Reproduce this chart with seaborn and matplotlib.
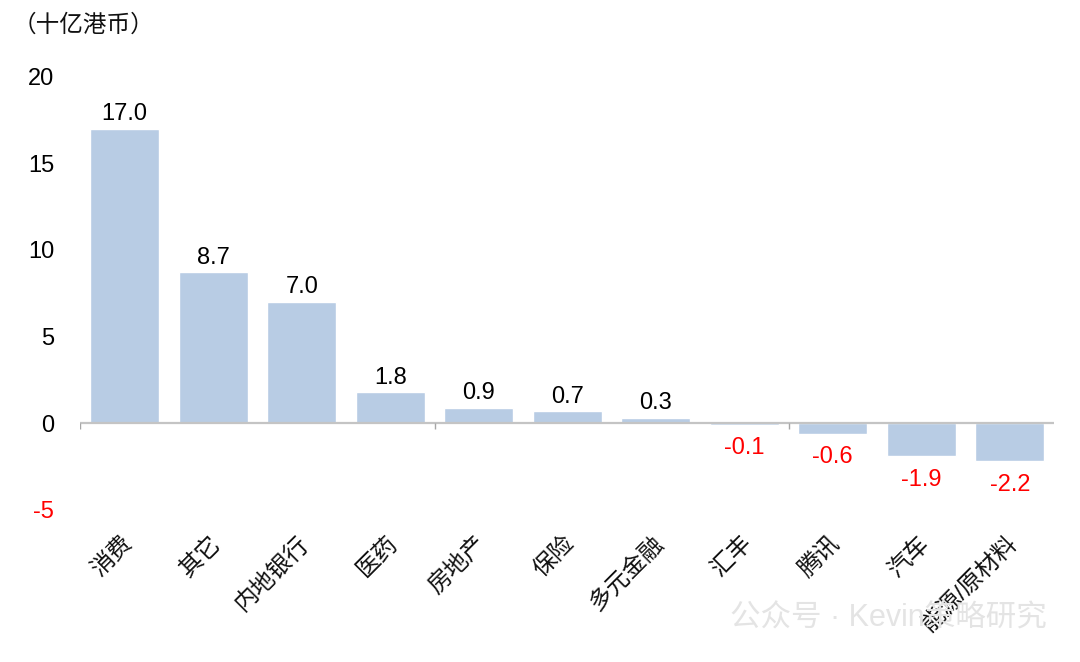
import matplotlib
matplotlib.use("Agg")
import matplotlib.pyplot as plt
from matplotlib.transforms import ScaledTranslation
import pandas as pd
import seaborn as sns

categories = ["消费", "其它", "内地银行", "医药", "房地产", "保险", "多元金融", "汇丰", "腾讯", "汽车", "能源/原材料"]
values = [17.0, 8.7, 7.0, 1.8, 0.9, 0.7, 0.3, -0.1, -0.6, -1.9, -2.2]
y_ticks = [-5, 0, 5, 10, 15, 20]
group_edges = [-0.5, 3.5, 7.5]

BAR_COLOR = "#b8cce4"
AXIS_COLOR = "#c4c4c4"

sns.set_theme(style="white")
plt.rcParams["font.family"] = ["Liberation Sans", "Noto Sans CJK SC", "DejaVu Sans"]

df = pd.DataFrame({"category": categories, "value": values})

fig, ax = plt.subplots(figsize=(10.8, 6.62), dpi=100)
sns.barplot(data=df, x="category", y="value", color=BAR_COLOR, saturation=1, width=0.78, ax=ax)

# 数值标签，负值用红色
for i, v in enumerate(values):
    ax.annotate(
        f"{v:.1f}",
        (i, v),
        xytext=(0, 2.5 if v >= 0 else -9),
        textcoords="offset points",
        ha="center",
        va="bottom" if v >= 0 else "top",
        fontsize=17,
        color="black" if v >= 0 else "red",
    )

ax.set_xlim(-0.5, 10.5)
ax.set_ylim(-5, 20)
ax.set_yticks(y_ticks)
ax.set_yticklabels([str(t) for t in y_ticks])
for lab, t in zip(ax.get_yticklabels(), y_ticks):
    lab.set_color("red" if t < 0 else "black")
ax.tick_params(axis="y", length=0, labelsize=17, pad=19)
ax.set_xlabel("")
ax.set_ylabel("")
ax.set_xticks(range(len(categories)))
ax.set_xticklabels(categories, rotation=45, ha="right", va="center", rotation_mode="anchor", fontsize=17, color="#111111")
ax.tick_params(axis="x", length=0, pad=22)
# 类别标签整体右移一点
shift = ScaledTranslation(3 / 72, 0, fig.dpi_scale_trans)
for lab in ax.get_xticklabels():
    lab.set_transform(lab.get_transform() + shift)

sns.despine(ax=ax, left=True, bottom=True, right=True, top=True)
ax.axhline(0, color=AXIS_COLOR, lw=1.6, zorder=3)
ax.vlines(group_edges, -0.35, 0, color="#a6a6a6", lw=1, zorder=3)

fig.text(0.012, 0.961, "（十亿港币）", fontsize=17, ha="left", va="center", color="#111111")
# 水印
fig.text(0.676, 0.066, "公众号 · Kevin策略研究", fontsize=22, ha="left", va="center", color="#e4e4e4", zorder=0)
fig.subplots_adjust(left=0.0745, right=0.976, top=0.884, bottom=0.23)
fig.savefig("out.png", dpi=100)
